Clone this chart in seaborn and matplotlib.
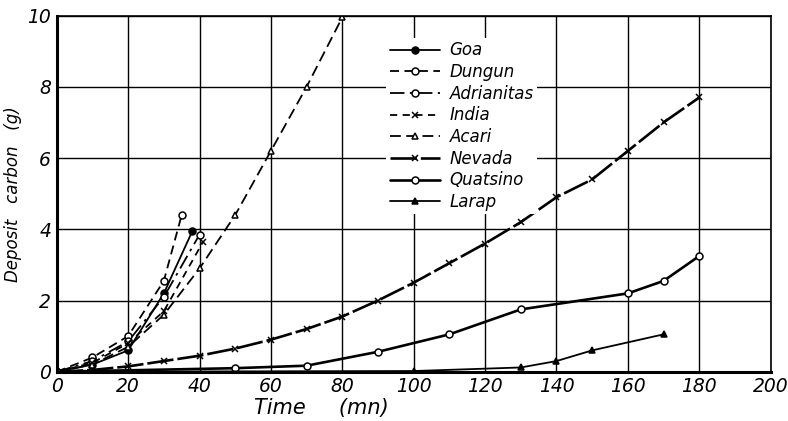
import numpy as np
import pandas as pd
import matplotlib
matplotlib.use("Agg")
import matplotlib.pyplot as plt
import seaborn as sns

# -----------------------------
# data
# -----------------------------
goa_t = [0, 10, 20, 30, 38]
goa_c = [0, 0.2, 0.6, 2.2, 3.95]

dungun_t = [0, 10, 20, 30, 35]
dungun_c = [0, 0.4, 1.0, 2.55, 4.4]

adrianitas_t = [0, 10, 20, 30, 40]
adrianitas_c = [0, 0.3, 0.85, 2.1, 3.85]

india_t = [0, 10, 20, 30, 41]
india_c = [0, 0.25, 0.8, 1.7, 3.65]

acari_t = [0, 10, 20, 30, 40, 50, 60, 70, 80]
acari_c = [0, 0.2, 0.7, 1.6, 2.9, 4.4, 6.2, 8.0, 9.95]

nevada_t = [0, 10, 20, 30, 40, 50, 60, 70, 80, 90, 100, 110, 120, 130, 140, 150, 160, 170, 180]
nevada_c = [0, 0.05, 0.15, 0.3, 0.45, 0.65, 0.9, 1.2, 1.55, 2.0, 2.5, 3.05, 3.6, 4.2, 4.9, 5.4, 6.2, 7.0, 7.7]

quatsino_t = [0, 50, 70, 90, 110, 130, 160, 170, 180]
quatsino_c = [0, 0.1, 0.17, 0.56, 1.05, 1.75, 2.2, 2.55, 3.25]

larap_t = [0, 100, 130, 140, 150, 170]
larap_c = [0, 0.02, 0.12, 0.3, 0.6, 1.05]

series = [
    ("Goa", goa_t, goa_c, "o", "black", "-"),
    ("Dungun", dungun_t, dungun_c, "o", "white", (0, (5, 3))),
    ("Adrianitas", adrianitas_t, adrianitas_c, "o", "white", (0, (8, 3, 1.5, 3))),
    ("India", india_t, india_c, "x", "black", (0, (4, 3))),
    ("Acari", acari_t, acari_c, "^", "white", (0, (6, 3))),
    ("Nevada", nevada_t, nevada_c, "x", "black", (0, (10, 1.5))),
    ("Quatsino", quatsino_t, quatsino_c, "o", "white", "-"),
    ("Larap", larap_t, larap_c, "^", "black", "-"),
]

sns.set_style("white")
plt.rcParams["font.family"] = ["DejaVu Sans"]
plt.rcParams["text.color"] = "black"
plt.rcParams["axes.labelcolor"] = "black"
plt.rcParams["xtick.color"] = "black"
plt.rcParams["ytick.color"] = "black"

fig, ax = plt.subplots(figsize=(7.88, 4.21), dpi=100)
fig.subplots_adjust(left=0.072, right=0.978, top=0.963, bottom=0.117)

for name, t, c, mk, fc, ls in series:
    lw = 1.9 if name in ("Nevada", "Quatsino") else 1.3
    sns.lineplot(x=t, y=c, ax=ax, label=name, color="black", linewidth=lw,
                 linestyle=ls, marker=mk, markersize=5 if mk != "x" else 4.5,
                 markerfacecolor=fc, markeredgecolor="black", markeredgewidth=1.1)

ax.set_xlim(0, 200)
ax.set_ylim(0, 10)
ax.set_xticks(range(0, 201, 20))
ax.set_yticks(range(0, 11, 2))
ax.grid(True, color="black", linewidth=1.0)
ax.set_axisbelow(True)
for side in ["left", "bottom"]:
    ax.spines[side].set_linewidth(2.2)
for side in ["top", "right"]:
    ax.spines[side].set_linewidth(1.2)
for s in ax.spines.values():
    s.set_color("black")

ax.tick_params(length=0, labelsize=13.5, pad=4)
for lab in ax.get_xticklabels() + ax.get_yticklabels():
    lab.set_fontstyle("italic")

ax.set_xlabel("Time     (mn)", fontsize=15, fontstyle="italic", labelpad=2)
ax.xaxis.set_label_coords(0.37, -0.075)
ax.set_ylabel("Deposit   carbon   (g)", fontsize=12, fontstyle="italic", labelpad=4)

leg = ax.legend(loc="upper left", bbox_to_anchor=(0.45, 0.96), frameon=True,
                fontsize=12, handlelength=3.0, handletextpad=0.6,
                labelspacing=0.22, borderpad=0.2)
leg.get_frame().set_edgecolor("none")
leg.get_frame().set_facecolor("white")
leg.get_frame().set_alpha(1)
for txt in leg.get_texts():
    txt.set_fontstyle("italic")

plt.savefig("out.png", dpi=100)
